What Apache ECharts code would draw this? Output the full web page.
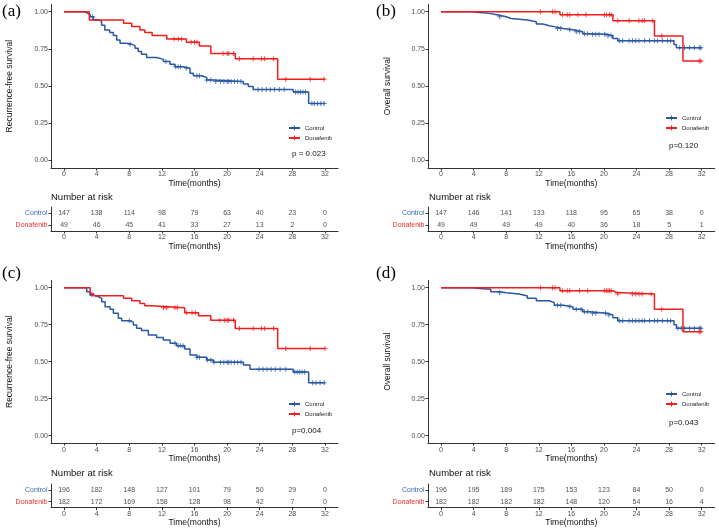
<!DOCTYPE html>
<html><head><meta charset="utf-8">
<script src="https://cdn.jsdelivr.net/npm/echarts@6/dist/echarts.min.js"></script>
<style>html,body{margin:0;padding:0;background:#fff}#c{width:719px;height:530px}</style>
</head><body><div id="c"></div><script>
// ---------- DATA ----------
const timeTicks = [0, 4, 8, 12, 16, 20, 24, 28, 32];
const survTicks = [0, 0.25, 0.5, 0.75, 1];
const groupNames = ['Control', 'Donafenib'];
const panelTags = ['(a)', '(b)', '(c)', '(d)'];
const yTitles = ['Recurrence-free survival', 'Overall survival', 'Recurrence-free survival', 'Overall survival'];
const pTexts = ['p = 0.023', 'p=0.120', 'p=0.004', 'p=0.043'];
const xTitle = 'Time(months)';
const riskTitle = 'Number at risk';

// (a) RFS
const aControl = [[0,1],[2.45,0.993],[2.8,0.98],[3.2,0.966],[3.6,0.944],[4.2,0.937],[4.6,0.91],[5.0,0.877],[5.6,0.86],[6.05,0.84],[6.46,0.81],[6.87,0.788],[7.68,0.781],[8.3,0.772],[8.7,0.754],[9.1,0.732],[9.5,0.714],[10.13,0.692],[11.36,0.68],[12.18,0.665],[13.0,0.647],[13.6,0.631],[14.63,0.62],[15.45,0.587],[15.86,0.57],[16.9,0.557],[17.5,0.542],[18.3,0.532],[22.0,0.515],[22.6,0.497],[23.2,0.477],[28.1,0.46],[30.0,0.383],[32,0.383]];
const aControlCens = [3.5,8.1,12.5,13.7,14.0,14.3,15.0,16.3,16.6,17.5,18.0,18.6,19.2,19.6,20.0,20.2,20.5,20.9,21.3,21.7,23.8,24.3,24.8,25.3,25.8,26.4,27.0,28.4,28.7,29.0,29.3,29.6,30.4,30.7,31.1,31.5,31.9];
const aDona = [[0,1],[3.1,0.944],[7.3,0.922],[8.3,0.90],[9.3,0.877],[9.9,0.86],[10.8,0.84],[12.6,0.816],[15.0,0.795],[16.6,0.77],[18.0,0.72],[21.0,0.684],[26.2,0.546],[32,0.546]];
const aDonaCens = [13.5,14.0,14.4,15.6,16.0,16.3,19.5,20.0,20.2,20.8,21.5,23.2,24.2,24.6,25.7,27.2,30.2,31.9];
const aRiskControl = [147,138,114,98,79,63,40,23,0];
const aRiskDona = [49,46,45,41,33,27,13,2,0];

// (b) OS
const bControl = [[0,1],[3.8,0.995],[4.7,0.989],[5.9,0.978],[7.0,0.966],[8.0,0.955],[8.6,0.95],[9.6,0.944],[10.6,0.933],[11.7,0.917],[12.5,0.906],[13.3,0.90],[13.9,0.888],[15.0,0.879],[16.2,0.866],[17.4,0.852],[18.2,0.848],[20.4,0.839],[21.1,0.821],[21.7,0.805],[28.6,0.78],[28.9,0.758],[32,0.758]];
const bControlCens = [7.2,14.3,14.7,15.8,16.6,17.0,17.6,18.0,18.6,19.0,19.4,20.1,20.5,20.9,21.9,22.3,23.1,23.5,23.9,24.3,25.0,25.6,26.2,26.6,27.2,27.8,28.2,29.3,29.9,30.5,31.1,31.7,31.9];
const bDona = [[0,1],[14.6,0.979],[21.1,0.94],[26.2,0.837],[29.7,0.669],[32,0.669]];
const bDonaCens = [12.2,13.7,14.0,14.9,15.5,15.8,16.8,17.8,20.05,20.3,20.7,20.9,21.7,23.1,24.3,24.7,25.0,26.0,27.1,31.7,31.9];
const bRiskControl = [147,146,141,133,118,95,65,38,0];
const bRiskDona = [49,49,49,49,40,36,18,5,1];

// (c) RFS
const cControl = [[0,1],[2.45,0.996],[2.78,0.973],[3.19,0.95],[3.6,0.939],[4.21,0.928],[4.62,0.905],[5.03,0.872],[5.64,0.854],[6.05,0.827],[6.66,0.793],[7.07,0.777],[8.09,0.766],[8.5,0.748],[8.9,0.726],[9.5,0.71],[10.34,0.68],[11.36,0.664],[12.18,0.647],[13.0,0.624],[13.8,0.608],[14.8,0.586],[15.45,0.546],[16.3,0.53],[17.5,0.511],[18.3,0.497],[22.0,0.478],[22.8,0.449],[28.1,0.43],[30.0,0.357],[32,0.357]];
const cControlCens = [3.4,8.0,13.6,14.0,14.3,14.6,16.3,16.6,17.6,18.0,18.4,19.2,19.6,20.0,20.2,20.5,20.9,21.3,21.7,23.9,24.4,24.9,25.4,25.9,26.5,27.2,28.3,28.6,28.9,29.2,29.5,30.5,30.9,31.4,31.9];
const cDona = [[0,1],[3.2,0.96],[3.6,0.946],[7.3,0.928],[8.3,0.912],[9.3,0.894],[9.9,0.878],[10.75,0.865],[14.8,0.83],[16.5,0.81],[18.0,0.78],[21.0,0.725],[26.2,0.59],[32,0.59]];
const cDonaCens = [12.2,12.6,13.6,13.9,15.0,15.7,16.1,19.1,19.7,20.0,20.2,20.8,21.5,23.2,24.2,24.6,25.7,27.2,30.2,32.0];
const cRiskControl = [196,182,148,127,101,79,50,29,0];
const cRiskDona = [182,172,169,158,128,98,42,7,0];

// (d) OS
const dControl = [[0,1],[3.8,0.995],[4.7,0.989],[6.1,0.973],[7.2,0.966],[8.0,0.957],[9.6,0.944],[10.6,0.928],[11.7,0.912],[13.3,0.899],[13.9,0.882],[15.0,0.871],[16.2,0.854],[17.4,0.838],[18.2,0.827],[20.4,0.815],[21.1,0.797],[21.7,0.777],[28.6,0.75],[28.9,0.726],[32,0.726]];
const dControlCens = [7.2,14.3,14.7,15.8,16.6,17.2,17.6,18.0,18.6,19.0,20.2,20.6,21.9,22.3,23.1,23.5,23.9,24.3,24.7,25.0,25.6,26.2,26.6,27.2,27.8,28.2,29.1,29.5,29.9,30.5,31.1,31.7,31.9];
const dDona = [[0,1],[14.6,0.98],[21.1,0.967],[21.5,0.957],[26.2,0.854],[29.7,0.703],[32,0.703]];
const dDonaCens = [12.2,13.7,14.0,14.9,15.5,15.8,17.0,18.0,20.05,20.3,20.5,20.7,20.9,21.7,23.5,23.9,24.3,24.7,25.8,27.1,31.7,31.9];
const dRiskControl = [196,195,189,175,153,123,84,50,0];
const dRiskDona = [182,182,182,182,148,120,54,16,4];

// ---------- STYLE / LAYOUT ----------
const BLUE = '#2957A4', RED = '#F21D1D';
const BLUE_T = '#3A6AB3', RED_T = '#EE2B2B';
const FONT = '"Liberation Sans", Arial, sans-serif';
const AXIS = '#333333';
const PLUS = 'path://M4,0H6V4H10V6H6V10H4V6H0V4H4Z';

const panels = [
  {steps:[aControl,aDona], cens:[aControlCens,aDonaCens], risk:[aRiskControl,aRiskDona]},
  {steps:[bControl,bDona], cens:[bControlCens,bDonaCens], risk:[bRiskControl,bRiskDona]},
  {steps:[cControl,cDona], cens:[cControlCens,cDonaCens], risk:[cRiskControl,cRiskDona]},
  {steps:[dControl,dDona], cens:[dControlCens,dDonaCens], risk:[dRiskControl,dRiskDona]}
];
const L = [
  {left:51, width:287, top:4.3, height:163.7, tTop:207, tH:24, legTop:125, legLeft:288, pLeft:292, pTop:149.5, tagLeft:2, tagTop:3, nrLeft:51, nrTop:192, yGap:36.5},
  {left:428, width:286.7, top:4.3, height:163.7, tTop:207, tH:24, legTop:115, legLeft:665, pLeft:669, pTop:141.5, tagLeft:376, tagTop:3, nrLeft:429, nrTop:192, yGap:36},
  {left:51, width:287, top:280.3, height:162.8, tTop:484, tH:23.6, legTop:401, legLeft:288, pLeft:292, pTop:426.5, tagLeft:2, tagTop:265, nrLeft:51, nrTop:468.5, yGap:36.5},
  {left:428, width:286.7, top:280.3, height:162.8, tTop:484, tH:23.6, legTop:391, legLeft:665, pLeft:669, pTop:418.5, tagLeft:376, tagTop:265, nrLeft:429, nrTop:468.5, yGap:36}
];

function survAt(steps, t) {
  let s = steps[0][1];
  for (const p of steps) { if (p[0] <= t) s = p[1]; }
  return s;
}

const grid = [], xAxis = [], yAxis = [], series = [], title = [], legend = [];
const colors = [BLUE, RED];

panels.forEach((P, i) => {
  const l = L[i];
  const gPlot = 2 * i, gTab = 2 * i + 1;
  grid.push({left:l.left, top:l.top, width:l.width, height:l.height, outerBoundsMode:'none'});
  grid.push({left:l.left, top:l.tTop, width:l.width, height:l.tH, outerBoundsMode:'none'});
  const xCommon = {
    type:'value', min:-1.6, max:33.6,
    axisLine:{show:true, onZero:false, lineStyle:{color:AXIS, width:1}},
    axisTick:{show:true, customValues:timeTicks, length:2.5, lineStyle:{color:AXIS}},
    axisLabel:{customValues:timeTicks, fontSize:7, color:'#4d4d4d', fontFamily:FONT, margin:3},
    splitLine:{show:false},
    name:xTitle, nameLocation:'middle', nameGap:10.5,
    nameTextStyle:{fontSize:8.5, color:'#111', fontFamily:FONT}
  };
  xAxis.push(Object.assign({gridIndex:gPlot}, xCommon));
  xAxis.push(Object.assign({gridIndex:gTab}, xCommon, {nameGap:10}));
  yAxis.push({
    gridIndex:gPlot, type:'value', min:-0.05, max:1.05,
    axisLine:{show:true, onZero:false, lineStyle:{color:AXIS, width:1}},
    axisTick:{show:true, customValues:survTicks, length:2.5, lineStyle:{color:AXIS}},
    axisLabel:{customValues:survTicks, formatter:v => v.toFixed(2), fontSize:7, color:'#4d4d4d', fontFamily:FONT, margin:3},
    splitLine:{show:false},
    name:yTitles[i], nameLocation:'middle', nameGap:l.yGap,
    nameTextStyle:{fontSize:8.5, color:'#111', fontFamily:FONT}
  });
  yAxis.push({
    gridIndex:gTab, type:'category', data:['Donafenib','Control'],
    axisLine:{show:true, onZero:false, lineStyle:{color:AXIS, width:1}},
    axisTick:{show:true, alignWithLabel:true, length:2.5, lineStyle:{color:AXIS}},
    axisLabel:{fontSize:7, fontFamily:FONT, margin:3.5, color:(v) => v === 'Control' ? BLUE_T : RED_T},
    splitLine:{show:false}
  });

  [0, 1].forEach(g => {
    series.push({
      name:groupNames[g], type:'line', step:'end', xAxisIndex:gPlot, yAxisIndex:gPlot,
      data:P.steps[g], showSymbol:false, symbol:PLUS, color:colors[g],
      lineStyle:{color:colors[g], width:1.5}, silent:true, animation:false, z:3 + g
    });
    series.push({
      name:groupNames[g], type:'scatter', xAxisIndex:gPlot, yAxisIndex:gPlot,
      data:P.cens[g].map(t => [t, survAt(P.steps[g], t)]),
      symbol:PLUS, symbolSize:5, itemStyle:{color:colors[g]}, silent:true, animation:false, z:3 + g
    });
    series.push({
      type:'scatter', xAxisIndex:gTab, yAxisIndex:gTab,
      data:timeTicks.map((t, k) => [t, groupNames[g], P.risk[g][k]]),
      symbolSize:0, silent:true, animation:false,
      label:{show:true, position:'inside', formatter:p => String(p.value[2]), fontSize:7, color:'#222', fontFamily:FONT}
    });
  });

  legend.push({
    data:groupNames, orient:'vertical', left:l.legLeft, top:l.legTop, padding:0,
    itemWidth:11, itemHeight:6, itemGap:4, selectedMode:false,
    textStyle:{fontSize:6, color:'#222', fontFamily:FONT}
  });

  title.push({text:panelTags[i], left:l.tagLeft, top:l.tagTop, padding:0,
    textStyle:{fontSize:17, fontWeight:'normal', color:'#000', fontFamily:'"Liberation Serif", "Times New Roman", serif'}});
  title.push({text:pTexts[i], left:l.pLeft, top:l.pTop, padding:0,
    textStyle:{fontSize:8, fontWeight:'normal', color:'#111', fontFamily:FONT}});
  title.push({text:riskTitle, left:l.nrLeft, top:l.nrTop, padding:0,
    textStyle:{fontSize:9.5, fontWeight:'normal', color:'#111', fontFamily:FONT}});
});

const chart = echarts.init(document.getElementById('c'), null, {renderer:'canvas'});
chart.setOption({
  animation:false, backgroundColor:'#fff',
  grid, xAxis, yAxis, series, title, legend,
  tooltip:{show:false}
});
</script></body></html>
